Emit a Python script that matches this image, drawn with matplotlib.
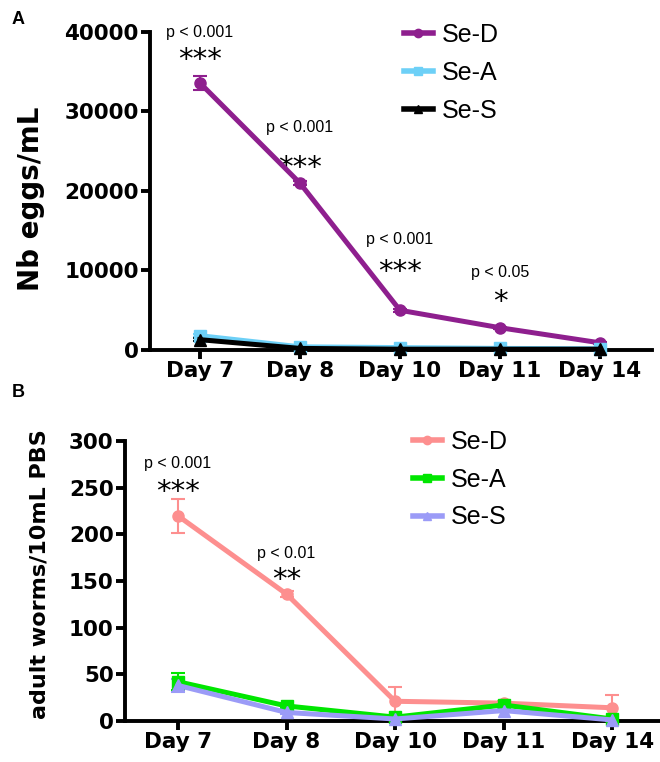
import matplotlib
matplotlib.use('Agg')
import matplotlib.pyplot as plt
from matplotlib.lines import Line2D
import numpy as np

plt.rcParams['font.family'] = ['Liberation Sans', 'DejaVu Sans']

days = ['Day 7', 'Day 8', 'Day 10', 'Day 11', 'Day 14']

# panel A - eggs
eggs_d = [33600, 21000, 5000, 2800, 900]
eggs_d_err = [900, 300, 200, 150, 100]
eggs_a = [1800, 400, 300, 200, 150]
eggs_a_err = [200, 50, 50, 50, 30]
eggs_s = [1300, 200, 100, 100, 100]
eggs_s_err = [150, 50, 30, 30, 30]
eggs_p = ['p < 0.001', 'p < 0.001', 'p < 0.001', 'p < 0.05']
eggs_stars = ['***', '***', '***', '*']
eggs_p_y = [39900, 28050, 13840, 9800]
eggs_star_y = [36450, 22850, 9800, 6050]

# panel B - adult worms
worms_d = [220, 136, 21, 19, 14]
worms_d_err = [18, 3, 15, 2, 14]
worms_a = [42, 16, 4, 17, 2]
worms_a_err = [9, 2, 1, 3, 1]
worms_s = [38, 9, 2, 11, 1]
worms_s_err = [7, 2, 1, 2, 1]
worms_p = ['p < 0.001', 'p < 0.01']
worms_stars = ['***', '**']
worms_p_y = [276, 180]
worms_star_y = [246, 151]

x = np.arange(len(days))
bold = {'family': 'DejaVu Sans', 'weight': 'bold'}

fig = plt.figure(figsize=(6.6, 7.62), dpi=100)
axA = fig.add_axes([0.227, 0.5407, 0.761, 0.4173])
axB = fig.add_axes([0.189, 0.054, 0.811, 0.367])


def style(ax):
    for s in ['top', 'right']:
        ax.spines[s].set_visible(False)
    for s in ['left', 'bottom']:
        ax.spines[s].set_linewidth(2.8)
    ax.tick_params(width=2.8, length=6.5, pad=1.5)
    ax.set_xticks(x)
    ax.set_xticklabels(days, fontdict=dict(bold, size=15.5))
    ax.set_yticklabels([str(int(v)) for v in ax.get_yticks()], fontdict=dict(bold, size=15.5))


def series(ax, y, err, color, marker):
    ax.errorbar(x, y, yerr=err, color=color, marker=marker, markersize=8,
                linewidth=3.6, capsize=5, elinewidth=1.5, capthick=1.5,
                clip_on=False, zorder=3)
    return Line2D([], [], color=color, marker=marker, markersize=6, linewidth=4)


def add_legend(ax, handles, labels, px, py):
    ax.legend(handles, labels, loc='upper left', bbox_to_anchor=(px / 660, 1 - py / 762),
              bbox_transform=fig.transFigure, frameon=False, fontsize=18,
              borderpad=0, borderaxespad=0, handlelength=1.15,
              handletextpad=0.36, labelspacing=0.55)


hA = [series(axA, eggs_d, eggs_d_err, '#8e1f8e', 'o'),
      series(axA, eggs_a, eggs_a_err, '#6dd0f7', 's'),
      series(axA, eggs_s, eggs_s_err, '#000000', '^')]
axA.set_xlim(-0.5, 4.52)
axA.set_ylim(0, 40000)
axA.set_yticks([0, 10000, 20000, 30000, 40000])
style(axA)
axA.set_ylabel('Nb eggs/mL', fontdict=dict(bold, size=20), labelpad=14)
axA.yaxis.label.set_y(0.475)
for i in range(len(eggs_p)):
    axA.text(x[i], eggs_p_y[i], eggs_p[i], ha='center', va='center', fontsize=11.5, clip_on=False)
    axA.text(x[i], eggs_star_y[i], eggs_stars[i], ha='center', va='center', fontsize=21,
             family='DejaVu Sans', clip_on=False)
add_legend(axA, hA, ['Se-D', 'Se-A', 'Se-S'], 404, 23)

hB = [series(axB, worms_d, worms_d_err, '#fd8f8f', 'o'),
      series(axB, worms_a, worms_a_err, '#00e600', 's'),
      series(axB, worms_s, worms_s_err, '#9b9bf7', '^')]
axB.set_xlim(-0.49, 4.44)
axB.set_ylim(0, 300)
axB.set_yticks([0, 50, 100, 150, 200, 250, 300])
style(axB)
axB.set_ylabel('adult worms/10mL PBS', fontdict=dict(bold, size=16), labelpad=14)
axB.yaxis.label.set_y(0.525)
for i in range(len(worms_p)):
    axB.text(x[i], worms_p_y[i], worms_p[i], ha='center', va='center', fontsize=11.5, clip_on=False)
    axB.text(x[i], worms_star_y[i], worms_stars[i], ha='center', va='center', fontsize=21,
             family='DejaVu Sans', clip_on=False)
add_legend(axB, hB, ['Se-D', 'Se-A', 'Se-S'], 413, 430)

fig.text(12 / 660, 1 - 20 / 762, 'A', fontsize=13, fontweight='bold', va='center')
fig.text(12 / 660, 1 - 392 / 762, 'B', fontsize=13, fontweight='bold', va='center')

fig.savefig('out.png', dpi=100)
